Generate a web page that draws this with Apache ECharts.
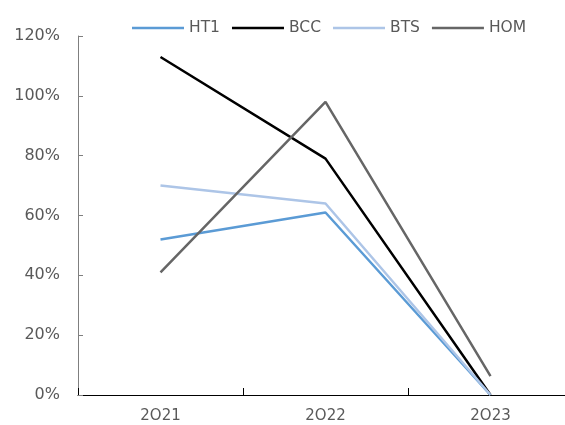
<!DOCTYPE html>
<html>
<head>
<meta charset="utf-8">
<script src="https://cdn.jsdelivr.net/npm/echarts@6/dist/echarts.min.js"></script>
<style>
  html, body { margin: 0; padding: 0; background: #fff; }
  #chart { width: 565px; height: 425px; }
</style>
</head>
<body>
<div id="chart"></div>
<script>
// Years on the category axis
const years = ['2O21', '2O22', '2O23'];

// Ratios in percent, one array per company
const ht1 = [52, 61, 0];
const bcc = [113, 79, 0];
const bts = [70, 64, 0];
const hom = [41, 98, 6.3];

const seriesNames = ['HT1', 'BCC', 'BTS', 'HOM'];
const seriesColors = ['#5b9bd5', '#000000', '#adc5e7', '#666666'];
const seriesValues = [ht1, bcc, bts, hom];

const textFont = 'DejaVu Sans';
const textColor = '#595959';

const chart = echarts.init(document.getElementById('chart'), null, { renderer: 'canvas' });

chart.setOption({
  animation: false,
  backgroundColor: '#ffffff',
  textStyle: { fontFamily: textFont },
  legend: {
    top: 15,
    left: 127,
    icon: 'rect',
    itemWidth: 52,
    itemHeight: 2.5,
    itemGap: 12,
    textStyle: { color: textColor, fontSize: 15.5, fontFamily: textFont },
    data: seriesNames
  },
  grid: {
    left: 78,
    top: 36,
    width: 495,
    height: 359,
    outerBoundsMode: 'none',
    containLabel: false
  },
  xAxis: {
    type: 'category',
    data: years,
    boundaryGap: true,
    axisLine: { show: true, lineStyle: { color: '#000000', width: 1 } },
    axisTick: { show: true, inside: true, length: 7, lineStyle: { color: '#000000' } },
    axisLabel: { color: textColor, fontSize: 15, fontFamily: textFont, margin: 14 },
    splitLine: { show: false }
  },
  yAxis: {
    type: 'value',
    min: 0,
    max: 120,
    interval: 20,
    axisLine: { show: true, lineStyle: { color: '#7f7f7f', width: 1 } },
    axisTick: { show: true, inside: true, length: 5, lineStyle: { color: '#7f7f7f' } },
    axisLabel: {
      color: textColor,
      fontSize: 16,
      fontFamily: textFont,
      margin: 18,
      formatter: '{value}%'
    },
    splitLine: { show: false }
  },
  series: seriesNames.map((name, i) => ({
    name: name,
    type: 'line',
    data: seriesValues[i],
    symbol: 'none',
    smooth: false,
    lineStyle: { color: seriesColors[i], width: 2.5 },
    itemStyle: { color: seriesColors[i] }
  }))
});
</script>
</body>
</html>
